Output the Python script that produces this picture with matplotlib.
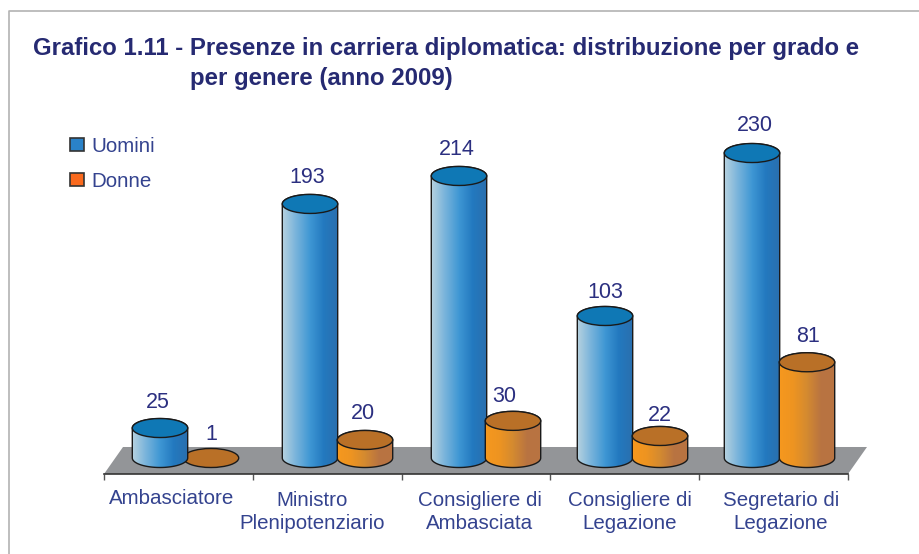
import numpy as np
import matplotlib
matplotlib.use("Agg")
import matplotlib.pyplot as plt
from matplotlib.colors import LinearSegmentedColormap
from matplotlib.patches import Ellipse, PathPatch, Polygon, Rectangle
from matplotlib.path import Path
from matplotlib.lines import Line2D

plt.rcParams['font.family'] = ['Liberation Sans', 'DejaVu Sans']

categories = ["Ambasciatore", "Ministro\nPlenipotenziario", "Consigliere di\nAmbasciata",
              "Consigliere di\nLegazione", "Segretario di\nLegazione"]
uomini = [25, 193, 214, 103, 230]
donne = [1, 20, 30, 22, 81]
# the printed cylinders are not quite to scale with their labels, so heights are read off separately
uomini_height = [22.6, 191.6, 212.7, 107.1, 230.0]
donne_height = [0.0, 13.6, 28.0, 16.6, 72.2]

W, H = 920, 554
TITLE_COL = "#262a72"
TEXT_COL = "#34438f"
VALUE_COL = "#2b2f80"

# layout, in px: cylinder shift from category centre, then label shift from cylinder top
uomini_dx = [-18.4, -17.2, -17.0, -19.8, -21.6]
donne_dx = [32.6, 37.8, 37.0, 35.2, 33.4]
uomini_lab = [(-2, 26), (-3, 26), (-2, 26), (0, 23), (3, 28)]
donne_lab = [(0, 23), (-2, 26), (-9, 24), (0, 20), (1, 26)]

blue_cmap = LinearSegmentedColormap.from_list("b", ["#b7d2df", "#78b3db", "#3f97d4", "#2379bf", "#2a6fae"])
orange_cmap = LinearSegmentedColormap.from_list("o", ["#f6981e", "#ee9421", "#d48a30", "#b97441", "#b87342"])

fig = plt.figure(figsize=(W/100, H/100), dpi=100)
# axes spans the front edge of the floor, x axis is the dark line under it
ax = fig.add_axes([104/W, (H-474)/H, 744/W, 374/H])
ylim = (-12.07, 270)
px_x = 744/5       # px per category
px_y = 374/(ylim[1]-ylim[0])

rx = 27.7/px_x
ry = 9.5/px_y


def cylinder(xc, height, cmap, top_col, z):
    if height > 0:
        t = np.linspace(np.pi, 2*np.pi, 60)
        bottom = np.column_stack([xc + rx*np.cos(t), ry*np.sin(t)])
        t2 = np.linspace(0, np.pi, 60)
        top = np.column_stack([xc + rx*np.cos(t2), height + ry*np.sin(t2)])
        body = Path(np.vstack([bottom, top, bottom[:1]]))
        im = ax.imshow(np.linspace(0, 1, 128).reshape(1, -1), cmap=cmap, aspect='auto',
                       extent=[xc-rx, xc+rx, -ry, height+ry], zorder=z)
        outline = PathPatch(body, fc='none', ec='#1a1a1a', lw=1.0, zorder=z+0.1)
        ax.add_patch(outline)
        im.set_clip_path(outline)
    ax.add_patch(Ellipse((xc, height), 2*rx, 2*ry, fc=top_col, ec='#1a1a1a', lw=1.0, zorder=z+0.2))


# floor
ax.add_patch(Polygon([(0, ylim[0]), (5, ylim[0]), (5+19/px_x, 8.3), (19/px_x, 8.3)],
                     fc='#939598', ec='none', zorder=1, clip_on=False))

for i in range(len(categories)):
    xb = i + 0.5 + uomini_dx[i]/px_x
    xo = i + 0.5 + donne_dx[i]/px_x
    # the flat orange disc sits behind the blue cylinder, the others in front
    cylinder(xo, donne_height[i], orange_cmap, '#b97027', 4 if donne_height[i] > 0 else 2)
    cylinder(xb, uomini_height[i], blue_cmap, '#0f78b5', 3)
    ax.annotate(str(uomini[i]), (xb, uomini_height[i]), xytext=(uomini_lab[i][0]*0.72, uomini_lab[i][1]*0.72),
                textcoords='offset points', ha='center', va='center', fontsize=15.5, color=VALUE_COL, zorder=6)
    ax.annotate(str(donne[i]), (xo, donne_height[i]), xytext=(donne_lab[i][0]*0.72, donne_lab[i][1]*0.72),
                textcoords='offset points', ha='center', va='center', fontsize=15.5, color=VALUE_COL, zorder=6)

ax.set_xlim(0, 5)
ax.set_ylim(*ylim)
ax.patch.set_alpha(0)
for s in ['top', 'left', 'right']:
    ax.spines[s].set_visible(False)
ax.spines['bottom'].set_color('#333333')
ax.spines['bottom'].set_linewidth(1.2)
ax.spines['bottom'].set_zorder(5)
ax.set_yticks([])
ax.set_xticks(range(6))
ax.set_xticklabels([])
ax.tick_params(axis='x', length=4, width=1, color='#555555')

# category labels, centres as they sit in the picture
label_x = [172, 312, 480, 630, 781]
label_y = [499, 512, 512, 512, 512]
for name, lx, ly in zip(categories, label_x, label_y):
    fig.text(lx/W, 1-ly/H, name, ha='center', va='center', fontsize=14.8, color=TEXT_COL,
             linespacing=1.25)

# title
fig.text(33/W, 1-48.5/H, "Grafico 1.11 - Presenze in carriera diplomatica: distribuzione per grado e",
         fontsize=17.3, fontweight='bold', color=TITLE_COL, va='center', ha='left')
fig.text(190/W, 1-79/H, "per genere (anno 2009)",
         fontsize=17.3, fontweight='bold', color=TITLE_COL, va='center', ha='left')

# legend
for name, col, yc in zip(["Uomini", "Donne"], ["#2a82c8", "#fa6a1e"], [144.5, 179.5]):
    fig.add_artist(Rectangle((70.5/W, 1-(yc+6.5)/H), 13.5/W, 13/H, fc=col, ec='#333333', lw=1.2,
                             transform=fig.transFigure))
    fig.text(91/W, 1-(yc+2)/H, name, fontsize=14.8, color=TEXT_COL, va='center', ha='left')

# page frame
fig.add_artist(Line2D([8.5/W, 8.5/W, 1], [0, 1-10.5/H, 1-10.5/H], color='#b3b3b3', lw=1.2,
                      transform=fig.transFigure))

fig.savefig("out.png", dpi=100)
